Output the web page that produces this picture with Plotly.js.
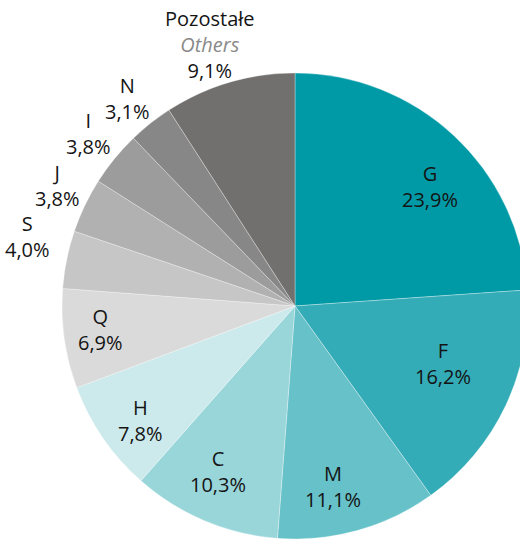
<!DOCTYPE html>
<html>
<head>
<meta charset="utf-8">
<script src="https://cdn.plot.ly/plotly-3.0.1.min.js"></script>
<style>
html,body{margin:0;padding:0;overflow:hidden;background:#fff;}
#chart{width:540px;height:539px;}
</style>
</head>
<body>
<div id="chart"></div>
<script>
const categories = ['G','F','M','C','H','Q','S','J','I','N','Pozostałe'];
const shares = [23.9,16.2,11.1,10.3,7.8,6.9,4.0,3.8,3.8,3.1,9.1];
const colors = ['#009aa6','#33acb7','#66c1c9','#99d6da','#cce9eb','#dadada','#c6c6c6','#b1b1b1','#9c9c9c','#878787','#71706f'];
const subtitleOthers = 'Others';

// label placement: fraction of radius and angular nudge (deg) from each slice's mid-angle
const labelRadius = [0.775,0.68,0.79,0.785,0.825,0.843,1.184,1.142,1.155,1.145,1.18];
const labelNudge  = [5.4,-4.1,3.8,2.0,-2.1,1.1,3.0,1.4,0.5,-0.5,-1.6];

const fmt = v => v.toFixed(1).replace('.', ',') + '%';
const texts = categories.map((c, i) => {
  if (c === 'Pozostałe') {
    return c + '<br><span style="color:#8a8a8a"><i>' + subtitleOthers + '</i></span><br>' + fmt(shares[i]);
  }
  return c + '<br>' + fmt(shares[i]);
});

const W = 540, H = 539;
const cx = 295, cy = 306, R = 233;

const total = shares.reduce((a, b) => a + b, 0);
let cum = 0;
const annotations = shares.map((v, i) => {
  const mid = (cum + v / 2) / total * 2 * Math.PI + labelNudge[i] * Math.PI / 180;
  cum += v;
  const r = labelRadius[i] * R;
  const px = cx + r * Math.sin(mid);
  const py = cy - r * Math.cos(mid);
  return {
    xref: 'paper', yref: 'paper',
    x: px / W, y: (H - py) / H,
    xanchor: 'center', yanchor: 'middle',
    text: texts[i], showarrow: false, align: 'center',
    font: {family: 'Open Sans, sans-serif', size: 20, color: '#141414'}
  };
});

Plotly.newPlot('chart', [{
  type: 'pie',
  labels: categories,
  values: shares,
  textinfo: 'none',
  sort: false,
  direction: 'clockwise',
  rotation: 0,
  marker: {colors: colors, line: {color: 'rgba(255,255,255,0.45)', width: 0.7}},
  domain: {x: [(cx - R) / W, (cx + R) / W], y: [(H - cy - R) / H, (H - cy + R) / H]},
  hoverinfo: 'none'
}], {
  width: W, height: H,
  margin: {l: 0, r: 0, t: 0, b: 0},
  showlegend: false,
  paper_bgcolor: '#ffffff',
  font: {family: 'Open Sans, sans-serif'},
  annotations: annotations
}, {staticPlot: true});
</script>
</body>
</html>
